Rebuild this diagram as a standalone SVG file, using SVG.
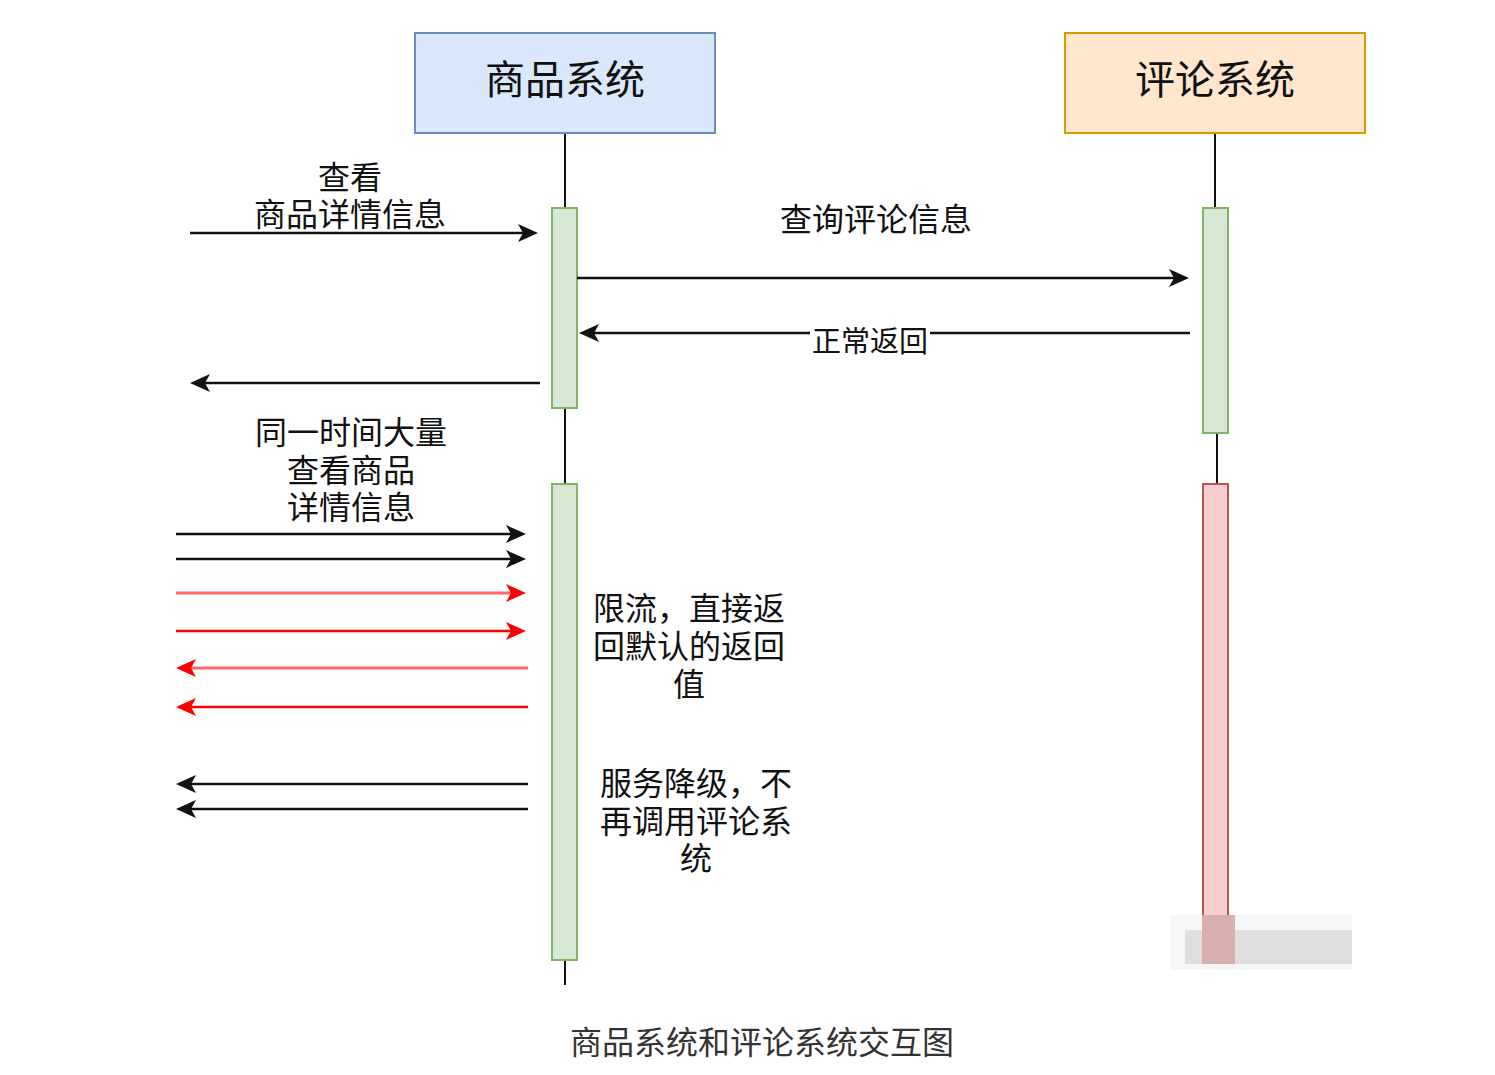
<svg xmlns="http://www.w3.org/2000/svg" width="1495" height="1075" viewBox="0 0 1495 1075">
<style>
.t{font-family:"Noto Sans CJK SC","Noto Sans",sans-serif;fill:#111;text-anchor:middle}
.lbl{font-size:32px}
.ttl{font-size:40px}
.cap{font-size:32px;fill:#333}
.life{stroke:#111;stroke-width:2;fill:none}
.ok{fill:#d5e8d4;stroke:#82b366;stroke-width:2}
.bad{fill:#f8cecc;stroke:#b85450;stroke-width:2}
.msg{stroke:#111;stroke-width:2.5;fill:none}
.rl{stroke:#ff6666;stroke-width:3;fill:none}
.rd{stroke:#ff0000;stroke-width:2.5;fill:none}
</style>
<defs>
<marker id="ab" viewBox="0 0 20 18" refX="15" refY="9" markerWidth="20" markerHeight="18" markerUnits="userSpaceOnUse" orient="auto"><path d="M0,0 L20,9 L0,18 L5,9 Z" fill="#111"/></marker>
<marker id="ar" viewBox="0 0 20 18" refX="15" refY="9" markerWidth="20" markerHeight="18" markerUnits="userSpaceOnUse" orient="auto"><path d="M0,0 L20,9 L0,18 L5,9 Z" fill="#ff0000"/></marker>
</defs>
<rect width="1495" height="1075" fill="#fff"/>
<g id="lifelines">
<line class="life" x1="565" y1="133" x2="565" y2="985"/>
<line class="life" x1="1215" y1="133" x2="1215" y2="210"/>
<line class="life" x1="1217" y1="433" x2="1217" y2="484"/>
</g>
<g id="goods-system">
<rect x="415" y="33" width="300" height="100" fill="#dae8fc" stroke="#6c8ebf" stroke-width="2"/>
<text class="t ttl" x="565" y="94">商品系统</text>
</g>
<g id="comment-system">
<rect x="1065" y="33" width="300" height="100" fill="#ffe6cc" stroke="#d79b00" stroke-width="2"/>
<text class="t ttl" x="1215" y="94">评论系统</text>
</g>
<g id="goods-activation-1"><rect class="ok" x="552" y="208" width="25" height="200"/></g>
<g id="goods-activation-2"><rect class="ok" x="552" y="484" width="25" height="476"/></g>
<g id="comment-activation-1"><rect class="ok" x="1203" y="208" width="25" height="225"/></g>
<g id="comment-activation-2"><rect class="bad" x="1203" y="484" width="25" height="436"/></g>
<g id="connectors">
<line class="msg" x1="190" y1="233" x2="533" y2="233" marker-end="url(#ab)"/>
<line class="msg" x1="577" y1="278" x2="1184" y2="278" marker-end="url(#ab)"/>
<line class="msg" x1="1190" y1="333" x2="584" y2="333" marker-end="url(#ab)"/>
<line class="msg" x1="540" y1="383" x2="195" y2="383" marker-end="url(#ab)"/>
<line class="msg" x1="176" y1="534" x2="521" y2="534" marker-end="url(#ab)"/>
<line class="msg" x1="176" y1="559" x2="521" y2="559" marker-end="url(#ab)"/>
<line class="rl" x1="176" y1="593" x2="521" y2="593" marker-end="url(#ar)"/>
<line class="rd" x1="176" y1="631" x2="521" y2="631" marker-end="url(#ar)"/>
<line class="rl" x1="528" y1="668" x2="181" y2="668" marker-end="url(#ar)"/>
<line class="rd" x1="528" y1="707" x2="181" y2="707" marker-end="url(#ar)"/>
<line class="msg" x1="528" y1="784" x2="181" y2="784" marker-end="url(#ab)"/>
<line class="msg" x1="528" y1="809" x2="181" y2="809" marker-end="url(#ab)"/>
</g>
<g id="labels">
<text class="t lbl" x="350" y="189">查看</text>
<text class="t lbl" x="350" y="226">商品详情信息</text>
<text class="t lbl" x="876" y="231">查询评论信息</text>
<rect x="810" y="326" width="120" height="30" fill="#fff"/>
<text class="t" style="font-size:29px" x="870" y="352">正常返回</text>
<text class="t lbl" x="351" y="444">同一时间大量</text>
<text class="t lbl" x="351" y="482">查看商品</text>
<text class="t lbl" x="351" y="519">详情信息</text>
<text class="t lbl" x="689" y="620">限流，直接返</text>
<text class="t lbl" x="689" y="658">回默认的返回</text>
<text class="t lbl" x="689" y="696">值</text>
<text class="t lbl" x="696" y="795">服务降级，不</text>
<text class="t lbl" x="696" y="833">再调用评论系</text>
<text class="t lbl" x="696" y="870">统</text>
</g>
<g id="watermark">
<rect x="1170" y="915" width="182" height="55" fill="#f6f6f6"/>
<rect x="1185" y="930" width="167" height="34" fill="#dedede"/>
<rect x="1202" y="915" width="33" height="49" fill="#d8aeae"/>
</g>
<text class="t cap" x="762" y="1054">商品系统和评论系统交互图</text>
</svg>
